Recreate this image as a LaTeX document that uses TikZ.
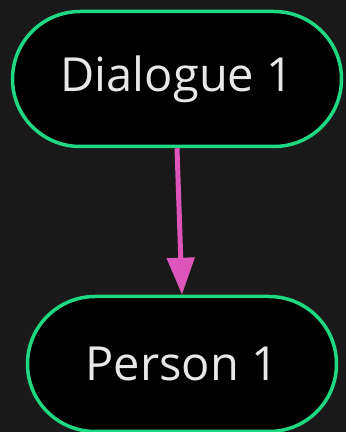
\documentclass[tikz,border=0pt]{standalone}
\usepackage{fontspec}
\setmainfont{Open Sans}
\usepackage{xcolor}
\definecolor{fond}{HTML}{191919}
\definecolor{vert}{HTML}{1FD882}
\definecolor{rose}{HTML}{DD55BB}
\definecolor{texte}{HTML}{E8E8E8}
\usetikzlibrary{shapes.misc}
\usetikzlibrary{arrows.meta}

\begin{document}
\begin{tikzpicture}[x=1pt, y=1pt, bloc/.style={shape=rounded rectangle, draw=vert, line width=3.5pt, fill=black, text=texte, font=\fontsize{47}{56}\selectfont, minimum height=135pt, inner sep=0pt}, lien/.style={draw=rose, line width=5pt, -{Triangle[width=27pt, length=37pt]}}]
            \fill[fond] (0, 0) rectangle (346, 432);
            \useasboundingbox (0, 0) rectangle (346, 432);

            \node (dialogue) [bloc, minimum width=329pt] at (177, 353) {Dialogue 1};
            \node (personne) [bloc, minimum width=309pt] at (182, 68) {Person 1};

            \draw[lien] (dialogue.south) -- (personne.north);
        \end{tikzpicture}
\end{document}
